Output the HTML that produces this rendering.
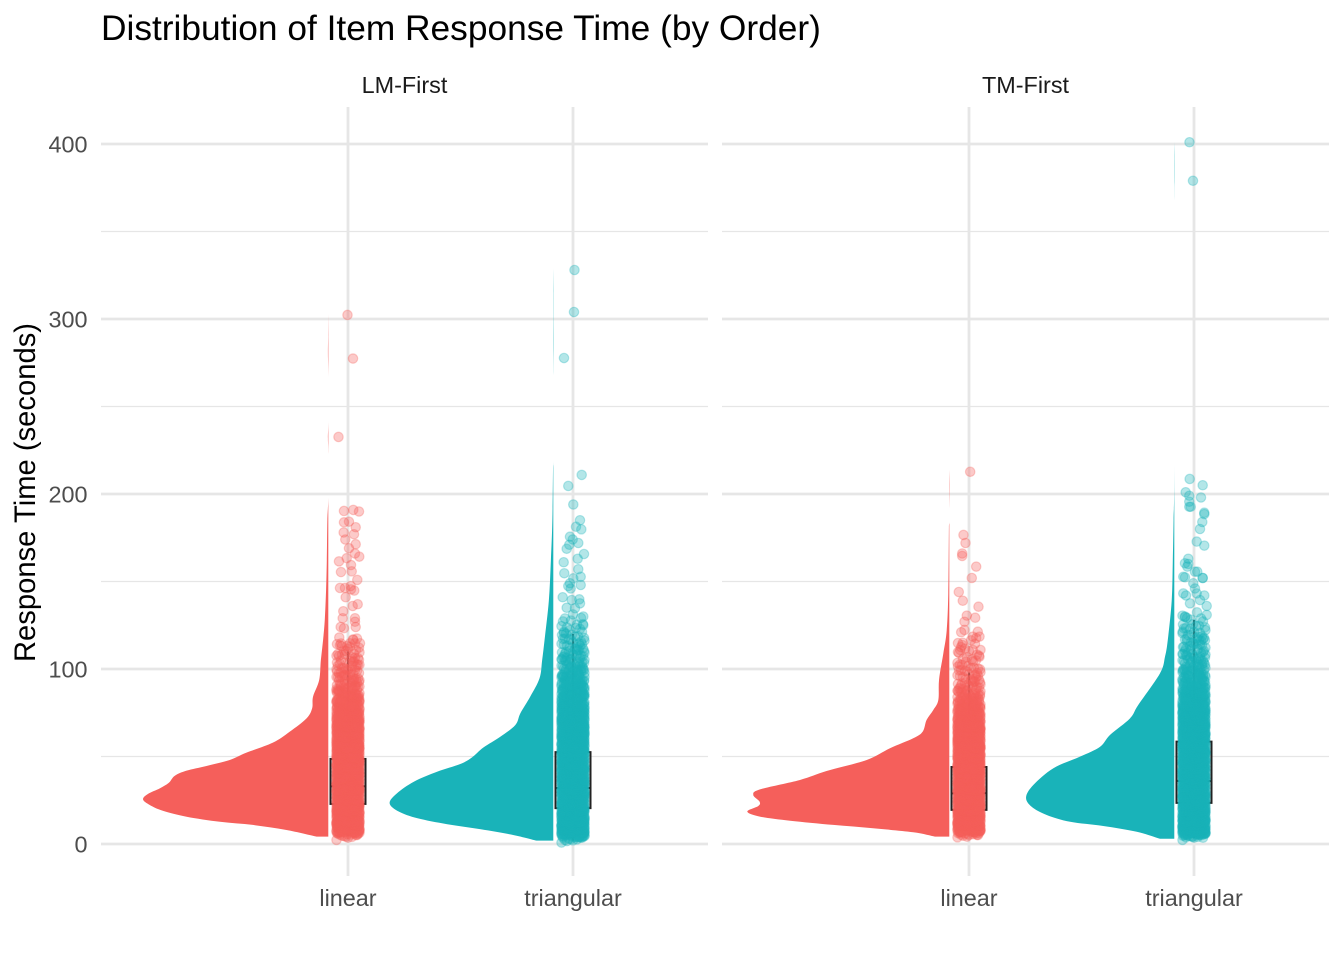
<!DOCTYPE html>
<html lang="en">
<head>
<meta charset="utf-8">
<title>Distribution of Item Response Time (by Order)</title>
<style>
html,body{margin:0;padding:0;background:#fff;}
svg{display:block;font-family:"Liberation Sans",Arial,sans-serif;}
</style>
</head>
<body>
<svg id="chart" xmlns="http://www.w3.org/2000/svg" width="1344" height="960" viewBox="0 0 1344 960">
  <rect x="0" y="0" width="1344" height="960" fill="#ffffff"/>
  <text x="101" y="40" font-size="35.3" fill="#000000">Distribution of Item Response Time (by Order)</text>
  <text transform="translate(35,492.5) rotate(-90)" text-anchor="middle" font-size="29.2" fill="#000000">Response Time (seconds)</text>
  <g id="grid"></g>
  <g id="violins"></g>
  <g id="boxes"></g>
  <g id="points"></g>
  <g id="labels"></g>
</svg>
<script>
const panelNames = ["LM-First", "TM-First"];
const categories = ["linear", "triangular"];
const yTicks = [0, 100, 200, 300, 400];
const yMinorTicks = [50, 150, 250, 350];
const seriesColors = ["#F55F5B", "#19B3B9"];

/* Half-violin outlines: response time and relative density */
const rtLinearLM = [4.2,4.2,8,10.9,12.7,15.6,19,22.3,25.5,28.6,31.8,34.9,39,41.9,44.6,48,52.2,57.9,64.2,71.8,77.5,84.2,93.7,105.1,116.6,128,145,162,185,198,223,232,242,267,280,290,303];
const densLinearLM = [0,6.3,22.5,40.6,58.3,76.2,89,96,99.6,97,90.6,85.8,82.5,76.2,65.5,53,44,29.8,20.7,11.7,8.7,8.2,4.9,4,2.8,1.9,1.2,0.8,0.5,0,0,0.2,0,0,0.2,0.1,0];
const rtTriangularLM = [1.9,1.9,5.1,8.4,11.3,14.7,18.5,23.3,29,35.6,41.3,45.7,49.5,55.2,61.3,68,74.7,84.2,94.7,105,116.6,139,162,185,214,219,268,285,300,315,329];
const densTriangularLM = [0,9,21.3,39,57,73,83,88,84,75,62.5,50,43.7,37.5,28.5,20.4,17.7,12.4,7.4,6,4.7,2.4,1.3,0.5,0.15,0,0,0.15,0.1,0.1,0];
const rtLinearTM = [4.2,4.2,6.7,9,10.9,13.3,15.6,18.5,21.7,24.2,28,31.2,36.6,41.7,48,54.7,60.4,64.2,70.9,76.6,82.3,94,109,122,143,181,184,192,204,214];
const densLinearTM = [0,7.7,19.4,41,62.4,85.6,101.6,108.6,102.7,102,105.4,101.8,80.3,66,44.4,31.9,19.4,14.3,12.2,8.6,5.9,5.5,3.2,1.4,0.55,0.2,0,0,0.15,0];
const rtTriangularTM = [3,3,7,10.3,12.7,16.6,21.3,26.7,33.7,43.3,49.9,55.6,62.3,71.8,79.4,97.5,107,116.6,139,162,185,217,368,380,392,401];
const densTriangularTM = [0,7.7,20.2,38.2,56,68.6,76.7,79.7,75.8,65,50.7,39.9,34.6,23.8,19.4,7.7,5,3.5,1.4,0.8,0.4,0,0,0.12,0.12,0];

/* Box plot summaries: lower whisker, q1, median, q3, upper whisker */
const boxLinearLM = [4.5, 22.9, 33, 48.6, 110];
const boxTriangularLM = [2, 20.5, 32, 52.5, 120];
const boxLinearTM = [5, 19.5, 29, 44, 98];
const boxTriangularTM = [3.5, 23.5, 36, 58.5, 128];

/* Shared response-time bins for the dense part of each point cloud, and points per bin */
const rtBins = [2,3.5,5,6.5,8,10,12,14,17,20,23,26,29,32,35,38,41,44,47,50,53,56,59,62,65,68,71,74,77,80,83,86,89,92,95,98,101,104,107,110,113,116,119,122,125,128,131];
const countsLinearLM = [0,2,8,18,28,34,38,44,48,48,48,48,48,48,48,48,48,48,48,48,48,48,48,48,48,44,40,36,32,28,24,20,16,14,12,11,10,9,8,7,5,3,0,0,0,0,0];
const countsTriangularLM = [3,10,22,30,36,40,42,46,48,48,48,48,48,48,48,48,48,48,48,48,48,48,48,48,48,48,46,44,40,36,32,28,24,20,18,16,14,12,11,10,9,8,6,5,4,3,1];
const countsLinearTM = [0,0,6,16,28,34,38,44,48,48,48,48,48,48,48,48,48,48,48,48,48,48,48,48,48,42,36,30,26,22,18,14,11,10,9,8,7,6,4,3,3,2,0,0,0,0,0];
const countsTriangularTM = [0,2,18,30,36,40,42,46,48,48,48,48,48,48,48,48,48,48,48,48,48,48,48,48,48,48,48,44,40,36,32,28,24,20,18,16,14,12,11,10,9,8,7,6,5,4,3];
const binJitter = [-11.5,4,-6,10,-2,8,-10,0,11.5,-4,6,-8,2,-11,11,-1,5,-7,9,-3,7,-9,3];
const binSpread = [-1.2,0.6,-0.3,1.2,-0.8,0.2,0.9,-1.4,1.4,-0.5,0.4];

/* Individually readable points: response time and horizontal jitter */
const rtSparseLinearLM = [302.3,277.4,232.6,190.3,190.9,190,183.8,184.2,181,178,177,174,171.3,169,163.3,164.2,166,161.5,159.4,155.8,155.4,150.9,146.3,146.3,147.4,144.8,145.5,141,136,137,133,129,129,124,123.3,127,124,118,116.6,114.7,114.7,114.7,113];
const jitterSparseLinearLM = [-0.5,5,-9.5,-4,5.3,11,-4,1,7.7,-4.3,6,-2.7,7.7,1,-1.3,11.3,7,-9,3,3.7,-7,9.3,-8,-3,2.7,6.3,3,-2.3,4.7,9.7,-4.7,-5.3,7,-7.3,-4,7,7.7,-8.7,5.3,12,2,7,-6.3];
const rtSparseTriangularLM = [328,304,277.7,210.9,204.6,194,185,181.3,179.8,175.6,174,172,171,168.7,165.7,163,161,157,154.7,152.7,151.8,148,149,146,147.4,141,139.8,139.4,135,134.7,137.5,128.9,130,121.3,125];
const jitterSparseTriangularLM = [1.5,1,-9,8.7,-4.7,0.3,7,3,8.3,-3,-0.3,5.3,-3.7,-6.3,11,4.7,-9.3,5.3,-8.7,7.7,0.3,7.7,-3,-2.3,-4.7,-10.3,6.3,-1.3,-6.3,2,7,-8,10.3,-9,10.3];
const rtSparseLinearTM = [212.7,176.6,172,166,164.6,158.5,152,144,139,135.6,130.5,129.3,127,121.3,118.5,121,122.3,118.5,117.7,115,110.9,109.7,113.7,107,110.9];
const jitterSparseLinearTM = [1.2,-5.5,-3.5,-6.8,-6.8,7.2,2.8,-10.2,-6.2,9.5,-2.2,6.2,-4.5,8.8,10.5,-7.8,-4.5,3.8,7.2,-6.2,-8.8,-11,-6.8,10.5,3.8];
const rtSparseTriangularTM = [401,379,208.6,205,201,199,198,195.6,192.7,192.7,189.3,188.5,184,180,172.8,170.5,163,160.4,160,158.5,155.6,155.6,152.7,152.4,152,152,149,146,143.2,142,143.2,142,139.4,136,137.5,130,130.9,121.3,117.5];
const jitterSparseTriangularTM = [-4.5,-1,-4.3,8.7,-8.3,-4.7,7,-4.7,-4.7,-3.3,10.3,10.3,8.3,6,2.7,10.3,-5.7,-9,-5.7,-6.7,1,3.3,-10.7,-9,8.7,8.7,-0.7,1,-10.7,-8,2.7,10.3,6,12.7,-4,-9,12.7,-11.3,-7.3];

const groups = [
  {panel:0,cat:0,color:0,key:"linear-lm-first",rt:rtLinearLM,dens:densLinearLM,box:boxLinearLM,counts:countsLinearLM,srt:rtSparseLinearLM,sj:jitterSparseLinearLM},
  {panel:0,cat:1,color:1,key:"triangular-lm-first",rt:rtTriangularLM,dens:densTriangularLM,box:boxTriangularLM,counts:countsTriangularLM,srt:rtSparseTriangularLM,sj:jitterSparseTriangularLM},
  {panel:1,cat:0,color:0,key:"linear-tm-first",rt:rtLinearTM,dens:densLinearTM,box:boxLinearTM,counts:countsLinearTM,srt:rtSparseLinearTM,sj:jitterSparseLinearTM},
  {panel:1,cat:1,color:1,key:"triangular-tm-first",rt:rtTriangularTM,dens:densTriangularTM,box:boxTriangularTM,counts:countsTriangularTM,srt:rtSparseTriangularTM,sj:jitterSparseTriangularTM}
];

/* Layout and axis functions */
const NS = "http://www.w3.org/2000/svg";
const panelLeft = p => 101 + p * 621;
const PANEL_W = 607, PANEL_TOP = 107, PANEL_BOTTOM = 876;
const CAT_STEP = 225, CAT_START = 247;
const yScale = v => 844 - 1.75 * v;
const xScale = (p, pos) => panelLeft(p) + CAT_START + pos * CAT_STEP;
const densScale = d => 1.86 * d;
const NUDGE = -19.7 / CAT_STEP;
const jitterPos = j => j / CAT_STEP;

function mk(tag, attrs, parent) {
  const el = document.createElementNS(NS, tag);
  for (const k in attrs) el.setAttribute(k, attrs[k]);
  parent.appendChild(el);
  return el;
}

/* Smooth outline through density knots; zero-density gaps and the flat base stay straight */
function outline(pts, base) {
  const f = n => n.toFixed(2);
  let d = "M" + f(pts[0][0]) + " " + f(pts[0][1]) + "L" + f(pts[1][0]) + " " + f(pts[1][1]);
  for (let i = 1; i < pts.length - 1; i++) {
    const p0 = pts[Math.max(1, i - 1)], p1 = pts[i], p2 = pts[i + 1], p3 = pts[Math.min(pts.length - 1, i + 2)];
    if (p1[0] >= base && p2[0] >= base) {
      d += "L" + f(p2[0]) + " " + f(p2[1]);
      continue;
    }
    const c1x = Math.min(base, p1[0] + (p2[0] - p0[0]) / 6), c1y = p1[1] + (p2[1] - p0[1]) / 6;
    const c2x = Math.min(base, p2[0] - (p3[0] - p1[0]) / 6), c2y = p2[1] - (p3[1] - p1[1]) / 6;
    d += "C" + f(c1x) + " " + f(Math.min(Math.max(c1y, p2[1]), p1[1])) + " " + f(c2x) + " " + f(Math.min(Math.max(c2y, p2[1]), p1[1])) + " " + f(p2[0]) + " " + f(p2[1]);
  }
  return d + "Z";
}

const gridG = document.getElementById("grid");
const labelG = document.getElementById("labels");

panelNames.forEach((name, p) => {
  yMinorTicks.forEach(t => {
    const l = mk("line", {x1: panelLeft(p), x2: panelLeft(p) + PANEL_W, y1: yScale(t), y2: yScale(t), stroke: "#E6E6E6", "stroke-width": 1.2}, gridG);
    
    
  });
  yTicks.forEach(t => {
    const l = mk("line", {x1: panelLeft(p), x2: panelLeft(p) + PANEL_W, y1: yScale(t), y2: yScale(t), stroke: "#E6E6E6", "stroke-width": 2.8}, gridG);
    
    
  });
  categories.forEach((c, i) => {
    const l = mk("line", {x1: xScale(p, i), x2: xScale(p, i), y1: PANEL_TOP, y2: PANEL_BOTTOM, stroke: "#E6E6E6", "stroke-width": 2.8}, gridG);
    
    
    const t = mk("text", {x: xScale(p, i), y: 906, "text-anchor": "middle", "font-size": 23.4, fill: "#4D4D4D"}, labelG);
    t.textContent = c;
    
    
  });
  const s = mk("text", {x: panelLeft(p) + PANEL_W / 2, y: 93, "text-anchor": "middle", "font-size": 23.4, fill: "#1A1A1A"}, labelG);
  s.textContent = name;
  
  
});

yTicks.forEach(t => {
  const e = mk("text", {x: 87.5, y: yScale(t) + 8.3, "text-anchor": "end", "font-size": 23.4, fill: "#4D4D4D"}, labelG);
  e.textContent = String(t);
  
  
});

const violinG = document.getElementById("violins");
const boxG = document.getElementById("boxes");
const pointG = document.getElementById("points");

groups.forEach(g => {
  const base = xScale(g.panel, g.cat + NUDGE);
  const color = seriesColors[g.color];

  const knots = g.rt.map((v, i) => [base - densScale(g.dens[i]), yScale(v)]);
  const v = mk("path", {d: outline(knots, base), fill: color}, violinG);
  
  

  const cx = xScale(g.panel, g.cat);
  const bw = 17.5;
  const whisker = mk("line", {x1: cx, x2: cx, y1: yScale(g.box[0]), y2: yScale(g.box[4]), stroke: "#222222", "stroke-width": 1.8}, boxG);
  
  
  const rect = mk("rect", {x: cx - bw, width: bw * 2, y: yScale(g.box[3]), height: yScale(g.box[1]) - yScale(g.box[3]), fill: "none", stroke: "#222222", "stroke-width": 2}, boxG);
  
  
  const med = mk("line", {x1: cx - bw, x2: cx + bw, y1: yScale(g.box[2]), y2: yScale(g.box[2]), stroke: "#222222", "stroke-width": 2}, boxG);
  
  

  const cloud = mk("g", {fill: color, stroke: color, "fill-opacity": 0.33, "stroke-opacity": 0.3, "stroke-width": 1.2}, pointG);
  
  
  let n = 0;
  g.counts.forEach((c, b) => {
    for (let k = 0; k < c; k++) {
      const j = binJitter[n % binJitter.length];
      const spread = binSpread[n % binSpread.length];
      n += 1;
      const dot = mk("circle", {cx: xScale(g.panel, g.cat + jitterPos(j)).toFixed(2), cy: yScale(rtBins[b] + spread).toFixed(2), r: 4.7}, cloud);
      
      
    }
  });
  g.srt.forEach((val, i) => {
    const dot = mk("circle", {cx: xScale(g.panel, g.cat + jitterPos(g.sj[i])).toFixed(2), cy: yScale(val).toFixed(2), r: 4.7}, cloud);
    
    
  });
});
</script>
</body>
</html>
